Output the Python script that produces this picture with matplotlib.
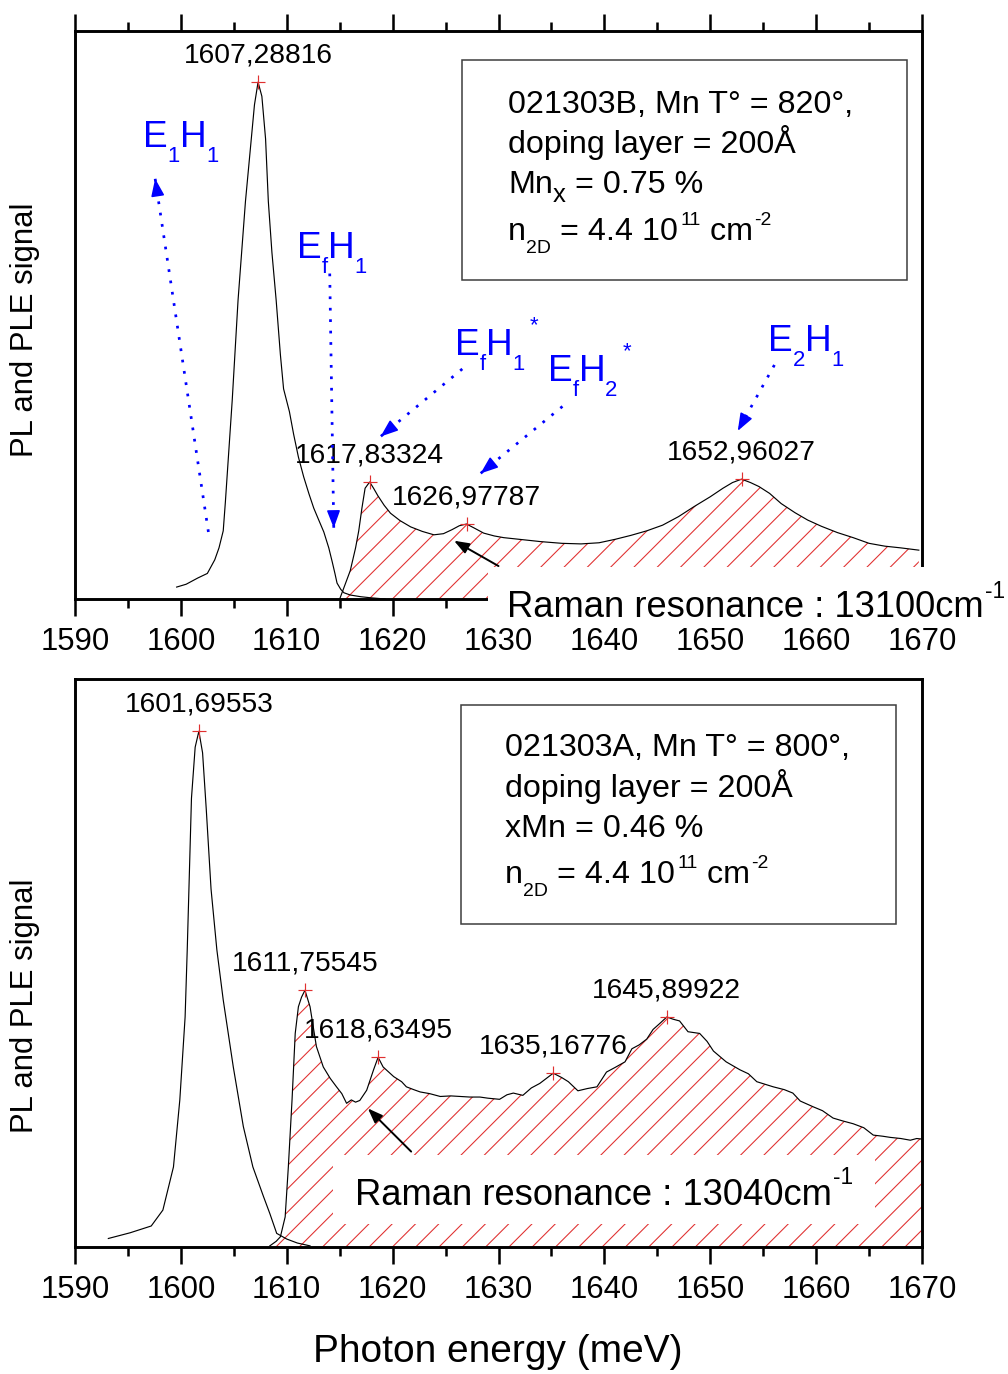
import numpy as np
import matplotlib
matplotlib.use('Agg')
import matplotlib.pyplot as plt
from matplotlib.patches import Rectangle
from matplotlib.collections import LineCollection

plt.rcParams['font.family'] = ['Liberation Sans', 'DejaVu Sans']

# ---------------- data ----------------
x_ticks = [1590, 1600, 1610, 1620, 1630, 1640, 1650, 1660, 1670]
x_minor = [1595, 1605, 1615, 1625, 1635, 1645, 1655, 1665]
x_ticklabels = ['1590', '1600', '1610', '1620', '1630', '1640', '1650', '1660', '1670']

# top panel (021303B)
top_pl_E = [1599.6, 1600.5, 1601.6, 1602.5, 1603.2, 1603.6, 1604.0, 1604.2, 1604.85, 1605.4,
            1606.1, 1606.6, 1606.95, 1607.29, 1607.65, 1608.0, 1608.26, 1608.6, 1609.0, 1609.4,
            1609.7, 1610.25, 1610.65, 1611.1, 1611.6, 1612.1, 1612.55, 1613.0, 1613.5, 1613.97,
            1614.3, 1614.55, 1614.75, 1615.1, 1615.4, 1616.0, 1617.0, 1618.0, 1619.3]
top_pl_I = [0.021, 0.026, 0.037, 0.045, 0.069, 0.09, 0.12, 0.17, 0.35, 0.526,
            0.70, 0.80, 0.87, 0.910, 0.885, 0.81, 0.70, 0.61, 0.526, 0.43,
            0.37, 0.33, 0.29, 0.25, 0.215, 0.185, 0.16, 0.14, 0.118, 0.09,
            0.065, 0.045, 0.028, 0.017, 0.011, 0.007, 0.004, 0.002, 0.0]

top_ple_E = [1615.0, 1615.5, 1616.0, 1616.5, 1616.8, 1617.1, 1617.4, 1617.83, 1618.2, 1618.6,
             1619.2, 1619.8, 1620.7, 1621.7, 1622.8, 1623.9, 1624.8, 1625.6, 1626.3, 1626.98,
             1627.7, 1628.6, 1629.6, 1630.5, 1632.0, 1634.0, 1636.0, 1637.8, 1639.5, 1641.0,
             1642.5, 1644.0, 1645.5, 1647.0, 1648.5, 1650.0, 1651.2, 1652.1, 1652.96, 1653.8,
             1654.6, 1655.6, 1656.7, 1658.0, 1659.2, 1660.5, 1662.0, 1663.5, 1665.0, 1666.5,
             1668.0, 1669.7]
top_ple_I = [0.0, 0.025, 0.05, 0.09, 0.12, 0.16, 0.195, 0.206, 0.195, 0.182,
             0.165, 0.151, 0.138, 0.127, 0.119, 0.113, 0.115, 0.122, 0.129, 0.132,
             0.125, 0.116, 0.111, 0.108, 0.105, 0.101, 0.098, 0.097, 0.099, 0.105,
             0.112, 0.12, 0.13, 0.145, 0.163, 0.18, 0.195, 0.205, 0.211, 0.205,
             0.198, 0.186, 0.168, 0.152, 0.139, 0.128, 0.117, 0.108, 0.098, 0.093,
             0.09, 0.086]

top_peak_E = [1607.28816, 1617.83324, 1626.97787, 1652.96027]
top_peak_I = [0.910, 0.206, 0.132, 0.211]
top_peak_labels = ['1607,28816', '1617,83324', '1626,97787', '1652,96027']

# bottom panel (021303A)
bot_pl_E = [1593.15, 1595.2, 1597.2, 1598.3, 1599.3, 1599.9, 1600.4, 1600.6, 1601.0, 1601.35,
            1601.7, 1602.05, 1602.4, 1602.85, 1603.4, 1604.0, 1604.95, 1605.9, 1606.8, 1607.8,
            1608.4, 1609.05, 1610.0, 1611.0, 1612.2]
bot_pl_I = [0.015, 0.025, 0.037, 0.065, 0.141, 0.259, 0.405, 0.523, 0.79, 0.88,
            0.908, 0.87, 0.77, 0.63, 0.523, 0.435, 0.317, 0.212, 0.141, 0.089,
            0.059, 0.024, 0.014, 0.007, 0.002]

bot_ple_E = [1608.4, 1609.0, 1609.4, 1609.85, 1610.15, 1610.5, 1610.8, 1611.1, 1611.4, 1611.72,
             1612.2, 1612.8, 1613.45, 1614.1, 1614.7, 1615.2, 1615.65, 1616.1, 1616.5, 1616.9,
             1617.55, 1618.2, 1618.63, 1619.1, 1620.1, 1620.85, 1621.3, 1622.0, 1622.6, 1623.5,
             1624.5, 1625.5, 1626.4, 1627.3, 1628.25, 1629.0, 1630.1, 1630.8, 1631.4, 1632.3,
             1633.1, 1633.9, 1635.17, 1636.0, 1636.6, 1637.5, 1638.4, 1639.3, 1640.2, 1641.0,
             1641.95, 1642.6, 1643.3, 1644.0, 1644.6, 1645.2, 1645.9, 1646.5, 1647.1, 1647.9,
             1649.0, 1649.7, 1650.3, 1651.5, 1652.8, 1653.6, 1654.4, 1655.95, 1657.0, 1657.8,
             1658.5, 1659.7, 1660.6, 1661.6, 1662.5, 1663.5, 1664.5, 1665.4, 1666.3, 1667.0,
             1668.0, 1668.9, 1669.5, 1670.0]
bot_ple_I = [0.002, 0.01, 0.018, 0.053, 0.141, 0.259, 0.376, 0.423, 0.44, 0.452,
             0.423, 0.353, 0.317, 0.297, 0.282, 0.27, 0.253, 0.259, 0.255, 0.258,
             0.276, 0.312, 0.334, 0.317, 0.300, 0.291, 0.282, 0.277, 0.273, 0.27,
             0.265, 0.266, 0.265, 0.264, 0.264, 0.262, 0.26, 0.268, 0.271, 0.267,
             0.28, 0.288, 0.306, 0.298, 0.291, 0.275, 0.279, 0.282, 0.308, 0.316,
             0.326, 0.349, 0.356, 0.366, 0.383, 0.393, 0.405, 0.401, 0.398, 0.379,
             0.376, 0.362, 0.345, 0.326, 0.312, 0.305, 0.291, 0.282, 0.277, 0.271,
             0.257, 0.247, 0.24, 0.227, 0.222, 0.217, 0.21, 0.197, 0.195, 0.193,
             0.191, 0.188, 0.191, 0.19]

bot_peak_E = [1601.69553, 1611.75545, 1618.63495, 1635.16776, 1645.89922]
bot_peak_I = [0.908, 0.452, 0.334, 0.306, 0.405]
bot_peak_labels = ['1601,69553', '1611,75545', '1618,63495', '1635,16776', '1645,89922']

# rich texts: (text, size factor, vertical shift px (+ = down), extra gap px before)
SUB, SUP = 0.6, 0.6
blue_label_parts = [
    [('E', 1, 0, 0), ('1', SUB, 15, 0), ('H', 1, 0, 0), ('1', SUB, 15, 0)],
    [('E', 1, 0, 0), ('f', SUB, 15, 0), ('H', 1, 0, 0), ('1', SUB, 15, 0)],
    [('E', 1, 0, 0), ('f', SUB, 15, 0), ('H', 1, 0, 0), ('1', SUB, 15, 0), ('*', SUP, -24, 5)],
    [('E', 1, 0, 0), ('f', SUB, 15, 0), ('H', 1, 0, 0), ('2', SUB, 15, 0), ('*', SUP, -24, 5)],
    [('E', 1, 0, 0), ('2', SUB, 15, 0), ('H', 1, 0, 0), ('1', SUB, 15, 0)],
]
n2d_line = [('n', 1, 0, 0), ('2D', SUB, 13, 0), (' = 4.4 10', 1, 0, 0), ('11', SUP, -15, 3),
            (' cm', 1, 0, 0), ('-2', SUP, -15, 1)]
top_info = [[('021303B, Mn T\u00b0 = 820\u00b0,', 1, 0, 0)],
            [('doping layer = 200\u00c5', 1, 0, 0)],
            [('Mn', 1, 0, 0), ('x', 0.8, 9, 0), (' = 0.75 %', 1, 0, 0)],
            n2d_line]
bot_info = [[('021303A, Mn T\u00b0 = 800\u00b0,', 1, 0, 0)],
            [('doping layer = 200\u00c5', 1, 0, 0)],
            [('xMn = 0.46 %', 1, 0, 0)],
            n2d_line]
top_raman = [('Raman resonance : 13100cm', 1, 0, 0), ('-1', 0.62, -19, 1)]
bot_raman = [('Raman resonance : 13040cm', 1, 0, 0), ('-1', 0.62, -21, 1)]

# ---------------- figure ----------------
W, H, DPI = 1008, 1374, 140
fig = plt.figure(figsize=(W / DPI, H / DPI), dpi=DPI)
renderer = fig.canvas.get_renderer()


def fx(px):
    return px / W


def fy(py):
    return 1 - py / H


def advance(s, size):
    t1 = fig.text(0, 0, s + '|', fontsize=size)
    t2 = fig.text(0, 0, '|', fontsize=size)
    w = t1.get_window_extent(renderer).width - t2.get_window_extent(renderer).width
    t1.remove()
    t2.remove()
    return w


def rich(x, y, parts, size, color='black', zorder=4):
    for s, f, dy, gap in parts:
        x += gap
        fig.text(fx(x), fy(y + dy), s, fontsize=size * f, color=color,
                 ha='left', va='baseline', zorder=zorder)
        x += advance(s, size * f)


AX_L, AX_R, AX_H = 75, 922, 568


def make_axes(top, bottom, left=AX_L, right=AX_R):
    return fig.add_axes([fx(left), fy(bottom), (right - left) / W, (bottom - top) / H])


ax1 = make_axes(31, 599)
ax2 = make_axes(679, 1247)

RED = '#e03030'
BLUE = '#0000ff'

for ax in (ax1, ax2):
    ax.set_xlim(1590, 1670)
    ax.set_ylim(0, 1)
    ax.set_yticks([])
    ax.set_xticks(x_ticks)
    ax.set_xticklabels(x_ticklabels)
    ax.set_xticks(x_minor, minor=True)
    for s in ax.spines.values():
        s.set_linewidth(1.5)
    ax.tick_params(axis='x', which='major', direction='out', length=8.5, width=1.3,
                   labelsize=16, pad=6)
    ax.tick_params(axis='x', which='minor', direction='out', length=4.5, width=1.3)
ax1.tick_params(axis='x', which='both', top=True)


def hatch_under(ax, E, I, spacing=23.3):
    poly = ax.fill_between(E, 0, I, facecolor='none', edgecolor='none', linewidth=0)
    path = poly.get_paths()[0]
    aw = AX_R - AX_L
    n = int((aw + AX_H) / spacing) + 2
    segs = []
    for k in range(n):
        x0 = -AX_H + k * spacing
        segs.append([(x0 / aw, 0.0), ((x0 + AX_H) / aw, 1.0)])
    lc = LineCollection(segs, transform=ax.transAxes, colors=RED, linewidths=0.55, zorder=1)
    ax.add_collection(lc, autolim=False)
    lc.set_clip_path(path, ax.transData)


def draw_panel(ax, pl_E, pl_I, ple_E, ple_I, pk_E, pk_I, pk_lab):
    hatch_under(ax, ple_E, ple_I)
    ax.plot(pl_E, pl_I, color='black', lw=0.6, zorder=2)
    ax.plot(ple_E, ple_I, color='black', lw=0.6, zorder=2)
    ax.plot(pk_E, pk_I, '+', color=RED, ms=7.7, mew=0.6, zorder=3)
    for e, i, lab in zip(pk_E, pk_I, pk_lab):
        ax.annotate(lab, (e, i), xytext=(0, 10), textcoords='offset points',
                    ha='center', va='baseline', fontsize=14.5)


draw_panel(ax1, top_pl_E, top_pl_I, top_ple_E, top_ple_I, top_peak_E, top_peak_I, top_peak_labels)
draw_panel(ax2, bot_pl_E, bot_pl_I, bot_ple_E, bot_ple_I, bot_peak_E, bot_peak_I, bot_peak_labels)


def blue_arrow(ax, tail, tip):
    ax.plot([tail[0], tip[0]], [tail[1], tip[1]], color=BLUE, lw=1.4,
            linestyle=(0, (1, 3.2)), zorder=3)
    T = ax.transData
    p0 = np.array(T.transform(tail))
    p1 = np.array(T.transform(tip))
    d = (p1 - p0) / np.linalg.norm(p1 - p0)
    pb = T.inverted().transform(p1 - d * 15)
    ax.annotate('', xy=tip, xytext=pb,
                arrowprops=dict(arrowstyle='-|>,head_length=0.45,head_width=0.17',
                                color=BLUE, lw=0.8, mutation_scale=17, shrinkA=0, shrinkB=0),
                zorder=3)


for tail, tip in [((1602.6, 0.118), (1597.57, 0.740)),
                  ((1614.06, 0.573), (1614.44, 0.125)),
                  ((1626.58, 0.405), (1618.86, 0.286)),
                  ((1636.04, 0.339), (1628.3, 0.221)),
                  ((1656.06, 0.412), (1652.6, 0.296))]:
    blue_arrow(ax1, tail, tip)

for (x, y), parts in zip([(143, 147), (297, 258), (455, 355), (548, 381), (768, 351)],
                         blue_label_parts):
    rich(x, y, parts, 19, color=BLUE)

# black arrows
black_style = dict(arrowstyle='-|>,head_length=0.4,head_width=0.15', color='black', lw=1.0,
                   mutation_scale=16, shrinkA=0, shrinkB=0)
ax1.annotate('', xy=(1625.8, 0.1026), xytext=(1630.0, 0.058), arrowprops=black_style)
ax2.annotate('', xy=(1617.66, 0.244), xytext=(1621.75, 0.168), arrowprops=black_style)

# white boxes behind the Raman texts
fig.add_artist(Rectangle((fx(488), fy(625)), fx(1008) - fx(488), fy(567) - fy(625),
                         transform=fig.transFigure, facecolor='white', edgecolor='none', zorder=1))
fig.add_artist(Rectangle((fx(333), fy(1224)), fx(875) - fx(333), fy(1155) - fy(1224),
                         transform=fig.transFigure, facecolor='white', edgecolor='none', zorder=1))
rich(507, 617, top_raman, 18.7)
rich(355, 1205, bot_raman, 18.7)

# info boxes
for (l, t, r, b), tx, bases, lines in [((462, 60, 907, 280), 508, [113, 153, 193, 240], top_info),
                                       ((461, 705, 896, 924), 505, [756, 797, 837, 883], bot_info)]:
    fig.add_artist(Rectangle((fx(l), fy(b)), fx(r) - fx(l), fy(t) - fy(b),
                             transform=fig.transFigure, facecolor='white', edgecolor='#404040',
                             lw=0.8, zorder=1))
    for yb, parts in zip(bases, lines):
        rich(tx, yb, parts, 16.6)

# axis labels
fig.text(fx(25), fy(330), 'PL and PLE signal', rotation=90, ha='center', va='center', fontsize=16)
fig.text(fx(25), fy(1006), 'PL and PLE signal', rotation=90, ha='center', va='center', fontsize=16)
fig.text(fx(498), fy(1352), 'Photon energy (meV)', ha='center', va='center', fontsize=20)

fig.savefig('out.png', dpi=DPI)
